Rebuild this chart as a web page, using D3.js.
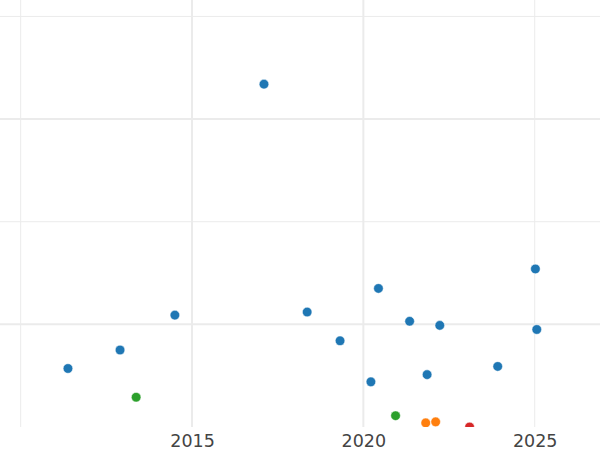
<!DOCTYPE html>
<html lang="en">
<head>
<meta charset="UTF-8">
<title>Scatter</title>
<script src="https://cdn.jsdelivr.net/npm/d3@7"></script>
<style>
  body { margin: 0; background: #fff; }
  text { font-family: "DejaVu Sans", sans-serif; }
</style>
</head>
<body>
<div id="chart"></div>
<script>
// data (year, value, group)
const years  = [2017.10, 2011.38, 2012.90, 2014.50, 2018.36, 2019.32, 2020.44, 2020.22, 2021.35, 2022.23, 2021.86, 2023.92, 2025.02, 2025.06, 2013.37, 2020.94, 2021.82, 2022.11, 2023.10];
const values = [3.34,    0.57,    0.75,    1.09,    1.12,    0.84,    1.35,    0.44,    1.03,    0.99,    0.51,    0.59,    1.54,    0.95,    0.29,    0.11,    0.04,    0.05,    0.00];
const groups = ["a","a","a","a","a","a","a","a","a","a","a","a","a","a","c","c","b","b","d"];
const groupColors = { a: "#1f77b4", b: "#ff7f0e", c: "#2ca02c", d: "#d62728" };

const xMajor = [2015, 2020];
const xMinor = [2010, 2025];
const xTickLabels = [2015, 2020, 2025];
const yMajor = [1, 3];
const yMinor = [2, 4];

const W = 600, H = 450;
const plotH = 427;

const svg = d3.select("#chart").append("svg")
    .attr("width", W).attr("height", H);

const x = d3.scaleLinear().domain([2009.397, 2026.905]).range([0, W]);
const y = d3.scaleLinear().domain([0, 4.16]).range([plotH, 0]);

svg.append("clipPath").attr("id", "clip")
  .append("rect").attr("x", 0).attr("y", 0).attr("width", W).attr("height", plotH);

const grid = svg.append("g");

// minor grid
grid.selectAll(".vmin").data(xMinor).enter().append("line")
    .attr("x1", d => x(d)).attr("x2", d => x(d))
    .attr("y1", 0).attr("y2", plotH)
    .attr("stroke", "#ebebeb").attr("stroke-width", 1);
grid.selectAll(".hmin").data(yMinor).enter().append("line")
    .attr("x1", 0).attr("x2", W)
    .attr("y1", d => y(d)).attr("y2", d => y(d))
    .attr("stroke", "#ebebeb").attr("stroke-width", 1);

// major grid
grid.selectAll(".vmaj").data(xMajor).enter().append("line")
    .attr("x1", d => x(d)).attr("x2", d => x(d))
    .attr("y1", 0).attr("y2", plotH)
    .attr("stroke", "#ebebeb").attr("stroke-width", 2);
grid.selectAll(".hmaj").data(yMajor).enter().append("line")
    .attr("x1", 0).attr("x2", W)
    .attr("y1", d => y(d)).attr("y2", d => y(d))
    .attr("stroke", "#ebebeb").attr("stroke-width", 2);

// x axis labels
const xAxis = d3.axisBottom(x).tickValues(xTickLabels).tickFormat(d3.format("d")).tickSize(0).tickPadding(0);
const ax = svg.append("g")
    .attr("transform", `translate(0, ${plotH})`)
    .call(xAxis);
ax.select(".domain").remove();
ax.selectAll("text")
    .attr("y", 20)
    .attr("dy", 0)
    .attr("fill", "#444")
    .style("font-size", "17.5px")
    .style("font-family", "DejaVu Sans, sans-serif");

// points
svg.append("g").attr("clip-path", "url(#clip)")
  .selectAll("circle")
  .data(years.map((d, i) => ({ yr: d, v: values[i], g: groups[i] })))
  .enter().append("circle")
    .attr("cx", d => x(d.yr))
    .attr("cy", d => y(d.v))
    .attr("r", 4.8)
    .attr("fill", d => groupColors[d.g])
    .attr("stroke", "#fff")
    .attr("stroke-width", 0.5);
</script>
</body>
</html>
